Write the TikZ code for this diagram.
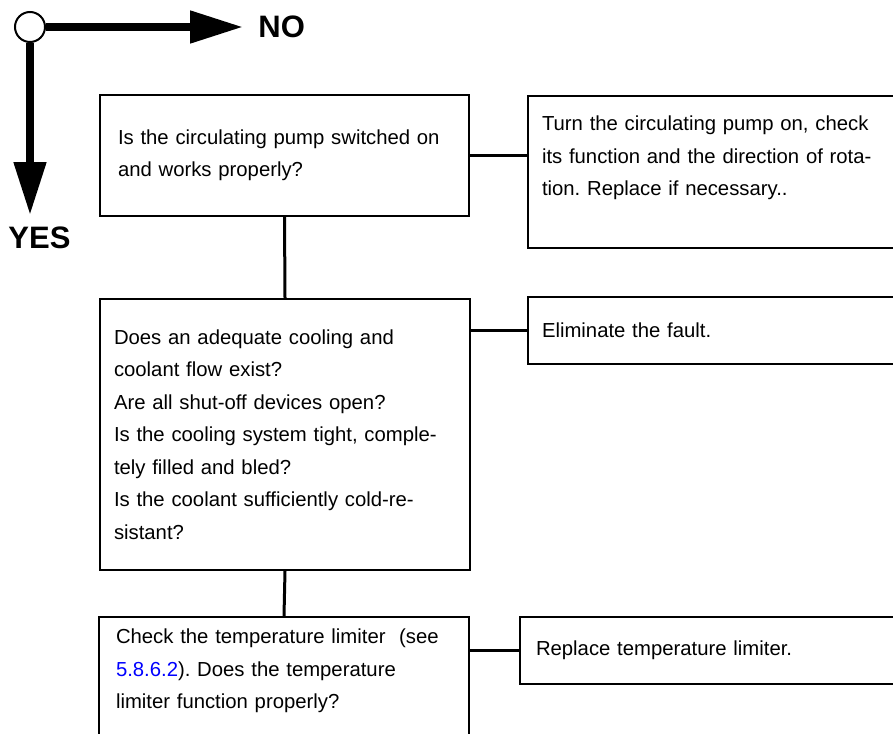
\documentclass[tikz,border=0pt]{standalone}
\usepackage{fontspec}
\setmainfont{Liberation Sans}
\usetikzlibrary{arrows.meta}

\begin{document}
\frenchspacing
\begin{tikzpicture}[x=0.5pt, y=-0.5pt,
        box/.style={draw, line width=1pt, anchor=north west, align=left, inner ysep=0pt,
            font=\fontsize{10.15}{16.25}\selectfont},
        link/.style={line width=1.5pt},
        bigarrow/.style={line width=4pt, -{Triangle[length=26.5pt, width=15.5pt]}},
        answer/.style={anchor=west, inner sep=0pt, font=\fontsize{15.5}{17}\selectfont\bfseries}]
    \useasboundingbox (0,0) rectangle (893,733);
    \node[draw, circle, line width=1pt, fill=white, minimum size=15pt, inner sep=0pt] (start) at (30,27) {};
    \coordinate (noend) at (243,27);
    \coordinate (yesend) at (30,215);
    \draw[bigarrow] (start) -- (noend);
    \draw[bigarrow] (start) -- (yesend);
    \node[answer] (no) at (258,27) {NO};
    \node[answer] (yes) at (8,238) {YES};
    \node[box, inner xsep=9pt, text width=166.5pt, minimum height=60.5pt] (pump) at (99,94)
        {Is the circulating pump switched on\\ and works properly?};
    \node[box, inner xsep=7pt, text width=175pt, minimum height=76pt] (turn) at (527,95)
        {Turn the circulating pump on, check\\ its function and the direction of rota-\\ tion. Replace if necessary..\\ \mbox{}};
    \node[box, inner xsep=7pt, text width=171pt, minimum height=135.5pt] (cool) at (99,298)
        {Does an adequate cooling and\\ coolant flow exist?\\ Are all shut-off devices open?\\ Is the cooling system tight, comple-\\ tely filled and bled?\\ Is the coolant sufficiently cold-re-\\ sistant?};
    \node[box, inner xsep=7pt, text width=175pt, minimum height=33.5pt] (fault) at (527,296)
        {Eliminate the fault.};
    \node[box, inner xsep=8.5pt, text width=168pt, minimum height=68pt] (limiter) at (98,616)
        {Check the temperature limiter~ (see\\ \textcolor{blue}{5.8.6.2}). Does the temperature\\ limiter function properly?\\ \mbox{}};
    \node[box, inner xsep=8pt, text width=177pt, minimum height=33.5pt] (replace) at (519,616)
        {Replace temperature limiter.};
    \draw[link] (pump.south) -- (cool.north);
    \draw[link] (cool.south) -- (limiter.north);
    \draw[link] (pump.east) -- (pump.east -| turn.west);
    \draw[link] (fault.west -| cool.east) -- (fault.west);
    \draw[link] (replace.west -| limiter.east) -- (replace.west);
\end{tikzpicture}
\end{document}
